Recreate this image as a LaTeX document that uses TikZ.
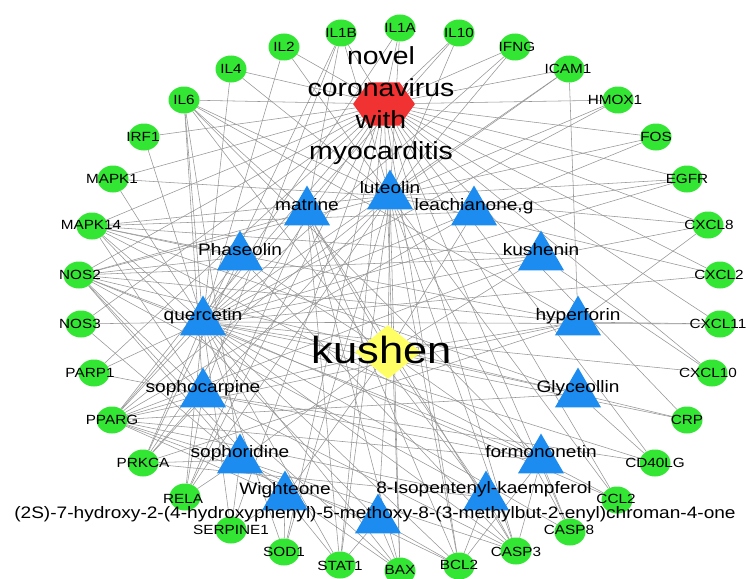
\documentclass[tikz,border=0pt]{standalone}
\usepackage{fontspec}
\newfontfamily\labfont[FakeStretch=1.15]{Liberation Sans}
\usetikzlibrary{shapes.geometric}
\pgfdeclarelayer{background}
\pgfsetlayers{background,main}
\definecolor{tgtgreen}{RGB}{51,230,51}
\definecolor{cpdblue}{RGB}{28,140,240}
\definecolor{disred}{RGB}{240,50,50}
\definecolor{kyellow}{RGB}{255,255,100}
\definecolor{edgegray}{RGB}{150,150,150}
\begin{document}
\begin{tikzpicture}[x=1pt,y=-1pt,
  tgt/.style={ellipse, fill=tgtgreen, minimum width=31pt, minimum height=27pt, inner sep=0pt},
  cpd/.style={regular polygon, regular polygon sides=3, fill=cpdblue, minimum size=53pt, inner sep=0pt},
  tlab/.style={anchor=base, inner sep=0pt, font={\labfont\fontsize{13.3pt}{15pt}\selectfont}},
  clab/.style={anchor=base, inner sep=0pt, font={\labfont\fontsize{16.6pt}{19pt}\selectfont}},
  edge/.style={draw=edgegray, line width=0.55pt}]
\useasboundingbox (0,0) rectangle (746,578);

% target nodes
\foreach \n/\x/\y in {IL1B/341/33, IL1A/400/28, IL10/459/33, IFNG/515/47, ICAM1/569/69,
  HMOX1/618/100, FOS/656/137, EGFR/687/179, CXCL8/708/225, CXCL2/720/275, CXCL11/720/324,
  CXCL10/712/373, CRP/687/420, CD40LG/655/463, CCL2/617/500, CASP8/570/532, CASP3/516/551,
  BCL2/459/566, BAX/400/571, STAT1/340/565, SOD1/284/552, SERPINE1/231/530, RELA/185/497,
  PRKCA/143/463, PPARG/112/420, PARP1/94/373, NOS3/81/324, NOS2/79/275, MAPK14/92/226,
  MAPK1/113/179, IRF1/144/137, IL6/184/100, IL4/231/69, IL2/284/47}
  \node[tgt] (\n) at (\x,\y) {};

% compound nodes
\foreach \n/\x/\y in {L/390/196, M/307/212, LG/474/212, PH/240/257, KN/541/257,
  Q/203/322, HY/578/322, SC/203/394, GL/578/394, SD/240/460, FM/541/460,
  WG/285/497, IK/486/497, TS/378/520}
  \node[cpd] (\n) at (\x,\y) {};

% disease and herb
\begin{scope}[shift={(384,104)}, xscale=1.24]
  \node[regular polygon, regular polygon sides=6, minimum size=50pt, inner sep=0pt,
        fill=disred, transform shape] (DS) at (0,0) {};
\end{scope}
\node[diamond, fill=kyellow, minimum width=66pt, minimum height=54pt, inner sep=0pt] (KS) at (388,352) {};

% edges
\begin{pgfonlayer}{background}
\fill[white] (0,0) rectangle (746,578);
\foreach \t in {IL1B,IL1A,IL10,IFNG,ICAM1,HMOX1,FOS,EGFR,CXCL8,CXCL2,CXCL11,CXCL10,CRP,CD40LG,
  CCL2,CASP8,CASP3,BCL2,BAX,STAT1,SOD1,SERPINE1,RELA,PRKCA,PPARG,PARP1,NOS3,NOS2,MAPK14,
  MAPK1,IRF1,IL6,IL4,IL2}
  {\draw[edge] (DS) -- (\t); \draw[edge] (Q) -- (\t);}
\foreach \c in {L,M,LG,PH,KN,Q,HY,SC,GL,SD,FM,WG,IK,TS}
  \draw[edge] (KS) -- (\c);
\foreach \t in {IL6,IL1B,IL2,IL4,IL10,IL1A,IFNG,ICAM1,HMOX1,EGFR,MAPK1,CXCL8,CXCL2,CASP3,
  CASP8,BCL2,BAX,STAT1,SOD1,RELA,PPARG,NOS2,MAPK14,PRKCA,CCL2,FOS}
  \draw[edge] (L) -- (\t);
\foreach \t in {IL6,IL1B,BAX,BCL2,CASP3,STAT1,RELA,NOS2} \draw[edge] (M) -- (\t);
\foreach \t in {PPARG,MAPK14,EGFR} \draw[edge] (LG) -- (\t);
\foreach \t in {NOS2,PPARG,MAPK14,CASP3,PRKCA} \draw[edge] (PH) -- (\t);
\foreach \t in {PPARG,NOS2,CXCL10,MAPK14} \draw[edge] (KN) -- (\t);
\foreach \t in {ICAM1,CXCL8,CXCL11,IL6,PPARG,NOS2,MAPK14,PRKCA} \draw[edge] (HY) -- (\t);
\foreach \t in {IL6,PPARG,PRKCA,RELA,NOS2,MAPK14,CASP3,BAX,CD40LG,IL1B} \draw[edge] (SC) -- (\t);
\foreach \t in {CD40LG,CRP,PPARG,NOS2,MAPK14} \draw[edge] (GL) -- (\t);
\foreach \t in {IL6,RELA,PRKCA,SERPINE1,CASP3,BAX,BCL2,PPARG,NOS2,NOS3} \draw[edge] (SD) -- (\t);
\foreach \t in {CCL2,CASP8,PPARG,NOS2,MAPK14,IL6,CASP3,BCL2,PARP1} \draw[edge] (FM) -- (\t);
\foreach \t in {SOD1,SERPINE1,PPARG,NOS2,STAT1} \draw[edge] (WG) -- (\t);
\foreach \t in {CASP3,BCL2,PPARG,NOS2,IL6,PRKCA} \draw[edge] (IK) -- (\t);
\foreach \t in {BAX,BCL2,STAT1,PPARG,MAPK14} \draw[edge] (TS) -- (\t);
\end{pgfonlayer}

% target labels
\foreach \n/\x/\y in {IL1B/341/33, IL1A/400/28, IL10/459/33, IFNG/517/47, ICAM1/568/69,
  HMOX1/615/100, FOS/656/137, EGFR/687/179, CXCL8/709/225, CXCL2/719/275, CXCL11/718/324,
  CXCL10/708/373, CRP/687/420, CD40LG/655/463, CCL2/616/499, CASP8/569/530, CASP3/516/552,
  BCL2/459/565, BAX/400/570, STAT1/340/566, SOD1/284/552, SERPINE1/231/530, RELA/183/499,
  PRKCA/143/463, PPARG/112/420, PARP1/90/373, NOS3/80/324, NOS2/80/275, MAPK14/91/225,
  MAPK1/112/179, IRF1/143/137, IL6/184/100, IL4/231/69, IL2/284/47}
  \node[tlab] (\n-l) at (\x,\y+4.8) {\n};

% compound labels
\node[clab] (L-l)  at (390,193.5) {luteolin};
\node[clab] (M-l)  at (307,210.5) {matrine};
\node[clab] (LG-l) at (474,210.5) {leachianone,g};
\node[clab] (PH-l) at (240,255.5) {Phaseolin};
\node[clab] (KN-l) at (541,255.5) {kushenin};
\node[clab] (Q-l)  at (203,320.5) {quercetin};
\node[clab] (HY-l) at (578,320.5) {hyperforin};
\node[clab] (SC-l) at (203,392.5) {sophocarpine};
\node[clab] (GL-l) at (578,392.5) {Glyceollin};
\node[clab] (SD-l) at (240,457.5) {sophoridine};
\node[clab] (FM-l) at (541,457.5) {formononetin};
\node[clab] (WG-l) at (285,494.5) {Wighteone};
\node[clab] (IK-l) at (484,493.5) {8-Isopentenyl-kaempferol};
\node[clab] (TS-l) at (375,518.5) {(2S)-7-hydroxy-2-(4-hydroxyphenyl)-5-methoxy-8-(3-methylbut-2-enyl)chroman-4-one};

% disease and herb labels
\node[align=center, inner sep=0pt, font={\labfont\fontsize{24.7pt}{31.7pt}\selectfont}] (DS-l) at (381,106)
  {novel\\coronavirus\\with\\myocarditis};
\node[anchor=base, inner sep=0pt, font={\labfont\fontsize{37.8pt}{40pt}\selectfont}] (KS-l) at (382,363) {kushen};
\end{tikzpicture}
\end{document}
